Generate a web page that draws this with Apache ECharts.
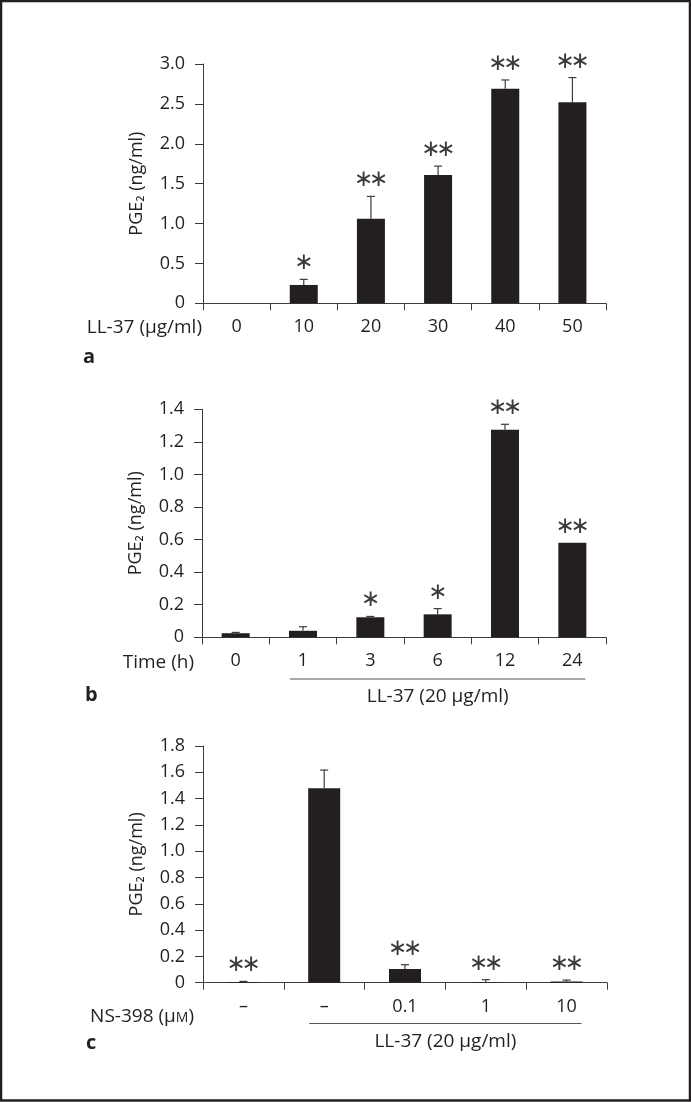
<!DOCTYPE html>
<html><head><meta charset="utf-8">
<script src="https://cdn.jsdelivr.net/npm/echarts@6/dist/echarts.min.js"></script>
<style>html,body{margin:0;padding:0;background:#fff}#c{width:691px;height:1102px}</style>
</head><body><div id="c"></div>
<script>
// Panel a: dose response
const catsA = ['0', '10', '20', '30', '40', '50'];
const meanA = [0, 0.23, 1.06, 1.61, 2.69, 2.52];
const sdA = [0, 0.07, 0.28, 0.11, 0.11, 0.31];
const sigA = ['', '*', '**', '**', '**', '**'];
// Panel b: time course
const catsB = ['0', '1', '3', '6', '12', '24'];
const meanB = [0.025, 0.04, 0.123, 0.141, 1.275, 0.581];
const sdB = [0.005, 0.025, 0.005, 0.035, 0.033, 0];
const sigB = ['', '', '*', '*', '**', '**'];
// Panel c: NS-398 inhibition
const catsC = ['\u2013', '\u2013', '0.1', '1', '10'];
const meanC = [0.005, 1.478, 0.104, 0.003, 0.01];
const sdC = [0.005, 0.139, 0.033, 0.02, 0.01];
const sigC = ['**', '', '**', '**', '**'];
// axis ranges
const yA = {min: 0, max: 3, interval: 0.5};
const yB = {min: 0, max: 1.4, interval: 0.2};
const yC = {min: 0, max: 1.8, interval: 0.2};

const INK = '#231f20';
const AX = '#3c3c3c';
const FAM = 'Open Sans';

const chart = echarts.init(document.getElementById('c'), null, {renderer: 'canvas'});

function yAxis(i, r) {
  return {
    type: 'value', gridIndex: i, min: r.min, max: r.max, interval: r.interval,
    axisLine: {show: true, lineStyle: {color: AX, width: 1}},
    axisTick: {show: true, length: 8, lineStyle: {color: AX, width: 1}},
    splitLine: {show: false},
    axisLabel: {margin: 18, color: INK, fontSize: 18, fontFamily: FAM,
      formatter: v => v === 0 ? '0' : v.toFixed(1)},
    name: 'PGE\u2082 (ng/ml)', nameLocation: 'middle', nameGap: 57, nameRotate: 90,
    nameTextStyle: {color: INK, fontSize: 18, fontFamily: FAM}
  };
}
function xAxis(i, cats) {
  return {
    type: 'category', gridIndex: i, data: cats,
    axisLine: {show: true, lineStyle: {color: AX, width: 1}},
    axisTick: {show: true, length: 7, interval: 0, lineStyle: {color: AX, width: 1}},
    axisLabel: {margin: 15, color: INK, fontSize: 18, fontFamily: FAM, interval: 0}
  };
}
function barSeries(i, means, w) {
  return {type: 'bar', xAxisIndex: i, yAxisIndex: i, data: means, barWidth: w,
    itemStyle: {color: INK}, silent: true, animation: false};
}
function errSeries(i, means, sds, sigs) {
  return {
    type: 'custom', xAxisIndex: i, yAxisIndex: i, animation: false, silent: true, z: 5,
    data: means.map((m, k) => [k, m, sds[k]]),
    renderItem: function (params, api) {
      const k = api.value(0), m = api.value(1), s = api.value(2);
      const p0 = api.coord([k, m]);
      const p1 = api.coord([k, m + s]);
      const ch = [];
      if (s > 0) {
        ch.push({type: 'line', shape: {x1: p0[0], y1: p0[1], x2: p1[0], y2: p1[1]},
          style: {stroke: AX, lineWidth: 1.2}});
        ch.push({type: 'line', shape: {x1: p1[0] - 4, y1: p1[1], x2: p1[0] + 4, y2: p1[1]},
          style: {stroke: AX, lineWidth: 1.2}});
      }
      const sig = sigs[params.dataIndex];
      if (sig) {
        const n = sig.length;
        for (let j = 0; j < n; j++) {
          const dx = (j - (n - 1) / 2) * 15;
          ch.push({type: 'text', x: p1[0] + dx, y: p1[1] - 16,
            style: {text: '\u2217', fill: '#3a3a3a', fontSize: 23, fontFamily: 'DejaVu Sans',
              align: 'center', verticalAlign: 'middle'}});
        }
      }
      return {type: 'group', children: ch};
    }
  };
}

const grids = [
  {left: 203, top: 64, width: 403, height: 239.3},
  {left: 202, top: 409.3, width: 404, height: 228},
  {left: 203, top: 746, width: 404, height: 236.7}
];

chart.setOption({
  backgroundColor: '#ffffff',
  animation: false,
  grid: grids,
  xAxis: [xAxis(0, catsA), xAxis(1, catsB), xAxis(2, catsC)],
  yAxis: [yAxis(0, yA), yAxis(1, yB), yAxis(2, yC)],
  series: [
    barSeries(0, meanA, 28), errSeries(0, meanA, sdA, sigA),
    barSeries(1, meanB, 28), errSeries(1, meanB, sdB, sigB),
    barSeries(2, meanC, 32), errSeries(2, meanC, sdC, sigC)
  ]
});

// annotations placed relative to the axes
const cB1 = chart.convertToPixel({xAxisIndex: 1}, 1);
const cB5 = chart.convertToPixel({xAxisIndex: 1}, 5);
const cC1 = chart.convertToPixel({xAxisIndex: 2}, 1);
const cC4 = chart.convertToPixel({xAxisIndex: 2}, 4);
const txt = (x, y, t, align, size, weight) => ({type: 'text', x: x, y: y,
  style: {text: t, fill: INK, fontSize: size || 19, fontFamily: FAM, fontWeight: weight || 'normal',
    align: align || 'right', verticalAlign: 'middle'}});

chart.setOption({
  graphic: [
    {type: 'rect', shape: {x: 1, y: 1, width: 689, height: 1099.5},
      style: {fill: 'none', stroke: '#231f20', lineWidth: 2.5}},
    txt(202, 328, 'LL-37 (\u00b5g/ml)'),
    txt(194, 663, 'Time (h)'),
    {type: 'text', x: 194, y: 1017, style: {
      text: '{n|NS-398 (\u00b5}{m|M}{n|)}', align: 'right', verticalAlign: 'middle',
      rich: {n: {fill: INK, fontSize: 19, fontFamily: FAM},
             m: {fill: INK, fontSize: 14, fontFamily: FAM, padding: [3, 0, 0, 0]}}}},
    txt(83, 357, 'a', 'left', 20, 'bold'),
    txt(85, 695, 'b', 'left', 20, 'bold'),
    txt(86, 1043, 'c', 'left', 20, 'bold'),
    {type: 'line', shape: {x1: cB1 - 13, y1: 679, x2: cB5 + 13, y2: 679}, style: {stroke: '#555', lineWidth: 1}},
    txt((cB1 + cB5) / 2, 697, 'LL-37 (20 \u00b5g/ml)', 'center'),
    {type: 'line', shape: {x1: cC1 - 15, y1: 1023.5, x2: cC4 + 15, y2: 1023.5}, style: {stroke: '#555', lineWidth: 1}},
    txt((cC1 + cC4) / 2, 1042, 'LL-37 (20 \u00b5g/ml)', 'center')
  ]
});
</script></body></html>
